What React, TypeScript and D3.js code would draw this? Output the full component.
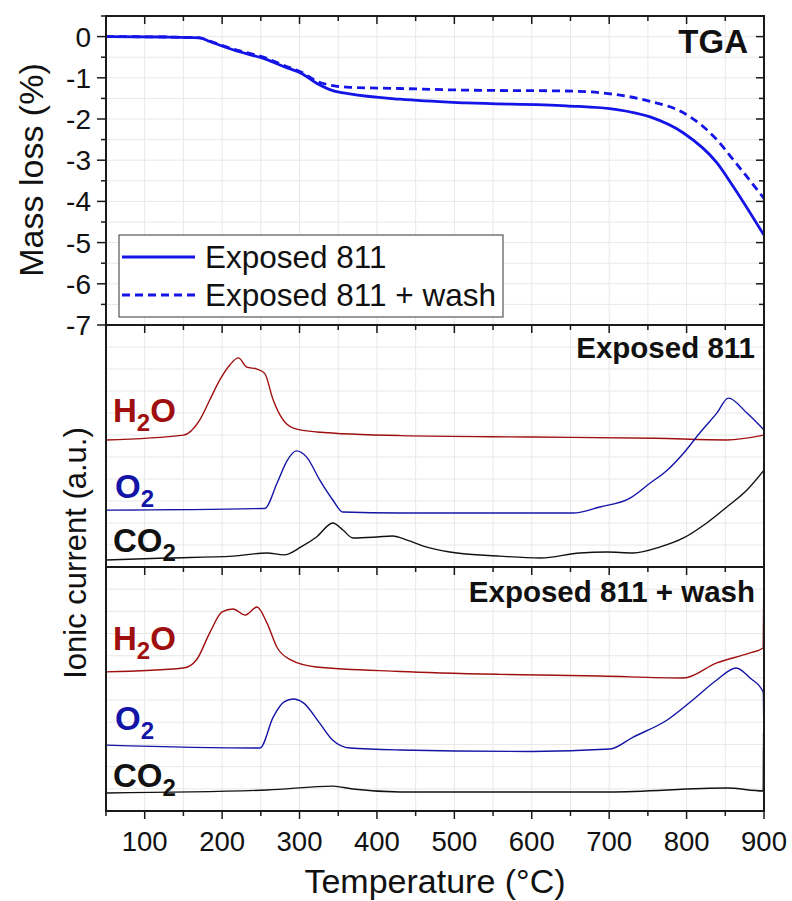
import * as d3 from 'd3';

// x axis (temperature, °C)
const xMajor = [100, 200, 300, 400, 500, 600, 700, 800, 900];
const xMinor = d3.range(50, 901, 50);
const massTicks = [0, -1, -2, -3, -4, -5, -6, -7];

// TGA mass loss (%)
const tgaExposed: [number, number][] = [
  [50, 0], [128, -0.01], [171, -0.03], [184, -0.12], [214, -0.32], [258, -0.56],
  [280, -0.73], [302, -0.89], [322, -1.13], [343, -1.31], [365, -1.39], [430, -1.52],
  [516, -1.61], [645, -1.68], [710, -1.77], [753, -1.95], [796, -2.34], [839, -3.06],
  [860, -3.63], [900, -4.82],
];
const tgaWash: [number, number][] = [
  [50, 0], [128, -0.01], [171, -0.03], [184, -0.11], [214, -0.3], [258, -0.53],
  [280, -0.7], [302, -0.86], [322, -1.08], [343, -1.19], [365, -1.23], [430, -1.26],
  [516, -1.3], [645, -1.32], [710, -1.41], [753, -1.57], [796, -1.85], [839, -2.5],
  [860, -2.98], [900, -3.93],
];

// ionic current, Exposed 811 (arbitrary units, 0-100 of panel)
const midH2O: [number, number][] = [
  [50, 52.5], [150, 54.5], [171, 60.7], [184, 69], [197, 77.3], [210, 83.5], [221, 86.4],
  [232, 82.6], [245, 81.8], [255, 80], [266, 69], [277, 61.6], [292, 57.4], [322, 55.8],
  [430, 54.3], [600, 53.7], [760, 53.2], [852, 52.5], [900, 54.5],
];
const midO2: [number, number][] = [
  [50, 23.5], [255, 24.2], [271, 34.7], [284, 44], [296, 48], [309, 45.5], [326, 36],
  [343, 27.7], [356, 22.7], [430, 22.3], [653, 22.3], [688, 24.8], [727, 28.5],
  [753, 34.7], [775, 40], [796, 47], [817, 55.4], [839, 63.6], [854, 69.8], [878, 63.6],
  [900, 56.6],
];
const midCO2: [number, number][] = [
  [50, 2.9], [128, 3.7], [214, 4.5], [258, 5.8], [280, 5], [302, 8.3], [322, 12.4],
  [343, 18.2], [356, 15.3], [369, 12], [400, 12.4], [420, 12.8], [440, 11], [460, 8.6],
  [494, 6.2], [559, 4.5], [611, 3.7], [662, 5.8], [697, 6.2], [731, 5.8], [766, 8.3],
  [796, 12], [826, 18.2], [852, 24.8], [878, 31.8], [900, 40],
];

// ionic current, Exposed 811 + wash
const botH2O: [number, number][] = [
  [50, 57], [150, 58.6], [167, 62], [184, 73], [200, 81.6], [214, 82.8], [230, 80.3],
  [245, 83.6], [258, 77], [271, 67], [288, 62], [322, 59], [430, 57.2], [559, 56],
  [688, 55.3], [796, 54.5], [839, 60.7], [882, 64.8], [899, 66.8], [899.6, 87],
];
const botO2: [number, number][] = [
  [50, 27], [249, 25.8], [266, 38.5], [280, 44.7], [292, 45.9], [305, 44.3], [326, 36],
  [343, 29], [365, 25.8], [430, 25], [600, 24.4], [701, 25.4], [731, 30.3], [775, 37.3],
  [808, 45.5], [839, 53.7], [864, 58.6], [882, 54.5], [899, 48.8], [899.6, 38.5],
];
const botCO2: [number, number][] = [
  [50, 7.4], [258, 8.6], [343, 10.2], [369, 9], [430, 7.8], [700, 7.8], [852, 9.4],
  [899, 8.2], [899.4, 32], [900, 6],
];

const FONT = '"Liberation Sans", Arial, sans-serif';
const RED = '#a00f0f';
const NAVY = '#1414a6';
const TGA_BLUE = '#1414e6';
const GRID = '#e8e8e8';
const AXIS = '#1a1a1a';

const x = d3.scaleLinear().domain([50, 900]).range([106, 764]);
const yTga = d3.scaleLinear().domain([-7, 0.5]).range([325, 16]);
const yMid = d3.scaleLinear().domain([0, 100]).range([567, 325]);
const yBot = d3.scaleLinear().domain([0, 100]).range([811, 567]);

const ionGrid = d3.range(1, 11).map(i => (i * 100) / 11);

function lineFor(y: d3.ScaleLinear<number, number>) {
  return d3
    .line<[number, number]>()
    .x(d => x(d[0]))
    .y(d => y(d[1]))
    .curve(d3.curveMonotoneX);
}

function Species({ tx, ty, base, sub, tail, color }: { tx: number; ty: number; base: string; sub: string; tail: string; color: string }) {
  return (
    <text x={tx} y={ty} fill={color} fontFamily={FONT} fontWeight="bold" fontSize={33}>
      {base}
      <tspan fontSize={24} dy={9}>{sub}</tspan>
      <tspan dy={-9}>{tail}</tspan>
    </text>
  );
}

export default function App() {
  const [x0, x1] = x.range();
  const tgaLine = lineFor(yTga);
  const midLine = lineFor(yMid);
  const botLine = lineFor(yBot);

  const vGrid = (top: number, bottom: number) =>
    xMinor.slice(1, -1).map(t => (
      <line key={`g${top}-${t}`} x1={x(t)} x2={x(t)} y1={top} y2={bottom} stroke={GRID} />
    ));

  const topTicks = (yy: number) =>
    xMinor.map(t => (
      <line key={`t${yy}-${t}`} x1={x(t)} x2={x(t)} y1={yy} y2={yy + (t % 100 === 0 ? 8 : 5)} stroke={AXIS} strokeWidth={1.5} />
    ));

  const halfSteps = d3.range(-7, 0.51, 0.5);

  return (
    <svg width={792} height={901} style={{ position: 'absolute', left: 0, top: 0, background: '#fff' }}>
      {/* grids */}
      {vGrid(16, 325)}
      {vGrid(325, 567)}
      {vGrid(567, 811)}
      {halfSteps.slice(1).map(v => (
        <line key={`hg${v}`} x1={x0} x2={x1} y1={yTga(v)} y2={yTga(v)} stroke={GRID} />
      ))}
      {ionGrid.map(v => (
        <line key={`mg${v}`} x1={x0} x2={x1} y1={yMid(v)} y2={yMid(v)} stroke={GRID} />
      ))}
      {ionGrid.map(v => (
        <line key={`bg${v}`} x1={x0} x2={x1} y1={yBot(v)} y2={yBot(v)} stroke={GRID} />
      ))}

      {/* TGA curves */}
      <path d={tgaLine(tgaWash) ?? ''} fill="none" stroke={TGA_BLUE} strokeWidth={2.8} strokeDasharray="8 5" />
      <path d={tgaLine(tgaExposed) ?? ''} fill="none" stroke={TGA_BLUE} strokeWidth={2.8} />

      {/* MS curves */}
      <path d={midLine(midH2O) ?? ''} fill="none" stroke={RED} strokeWidth={1.4} />
      <path d={midLine(midO2) ?? ''} fill="none" stroke={NAVY} strokeWidth={1.4} />
      <path d={midLine(midCO2) ?? ''} fill="none" stroke="#111" strokeWidth={1.4} />
      <path d={botLine(botH2O) ?? ''} fill="none" stroke={RED} strokeWidth={1.4} />
      <path d={botLine(botO2) ?? ''} fill="none" stroke={NAVY} strokeWidth={1.4} />
      <path d={botLine(botCO2) ?? ''} fill="none" stroke="#111" strokeWidth={1.4} />

      {/* frames */}
      <rect x={x0} y={16} width={x1 - x0} height={309} fill="none" stroke={AXIS} strokeWidth={2} />
      <rect x={x0} y={325} width={x1 - x0} height={242} fill="none" stroke={AXIS} strokeWidth={2} />
      <rect x={x0} y={567} width={x1 - x0} height={244} fill="none" stroke={AXIS} strokeWidth={2} />

      {/* ticks */}
      {topTicks(16)}
      {topTicks(325)}
      {topTicks(567)}
      {xMinor.map(t => (
        <line key={`bt${t}`} x1={x(t)} x2={x(t)} y1={811} y2={811 + (t % 100 === 0 ? 8 : 5)} stroke={AXIS} strokeWidth={1.5} />
      ))}
      {halfSteps.map(v => (
        <g key={`yt${v}`}>
          <line x1={x0} x2={x0 - (Number.isInteger(v) ? 9 : 5)} y1={yTga(v)} y2={yTga(v)} stroke={AXIS} strokeWidth={1.5} />
          <line x1={x1} x2={x1 - (Number.isInteger(v) ? 8 : 5)} y1={yTga(v)} y2={yTga(v)} stroke={AXIS} strokeWidth={1.5} />
        </g>
      ))}

      {/* tick labels */}
      {massTicks.map(v => (
        <text key={`yl${v}`} x={91} y={yTga(v)} dy="0.36em" textAnchor="end" fontFamily={FONT} fontSize={28} fill="#111">
          {v === 0 ? '0' : `-${Math.abs(v)}`}
        </text>
      ))}
      {xMajor.map(t => (
        <text key={`xl${t}`} x={x(t)} y={851} textAnchor="middle" fontFamily={FONT} fontSize={27.5} fill="#111">
          {t}
        </text>
      ))}

      {/* axis titles */}
      <text x={435} y={893} textAnchor="middle" fontFamily={FONT} fontSize={34} fill="#111">
        Temperature (°C)
      </text>
      <text transform="translate(43,170) rotate(-90)" textAnchor="middle" fontFamily={FONT} fontSize={34} fill="#111">
        Mass loss (%)
      </text>
      <text transform="translate(86,553) rotate(-90)" textAnchor="middle" fontFamily={FONT} fontSize={31} fill="#111">
        Ionic current (a.u.)
      </text>

      {/* panel labels */}
      <text x={748} y={53} textAnchor="end" fontFamily={FONT} fontWeight="bold" fontSize={33} fill="#111">TGA</text>
      <text x={755} y={358} textAnchor="end" fontFamily={FONT} fontWeight="bold" fontSize={29.5} fill="#111">Exposed 811</text>
      <text x={755} y={602} textAnchor="end" fontFamily={FONT} fontWeight="bold" fontSize={29.5} fill="#111">Exposed 811 + wash</text>

      {/* species labels */}
      <Species tx={113} ty={422} base="H" sub="2" tail="O" color={RED} />
      <Species tx={115} ty={498} base="O" sub="2" tail="" color={NAVY} />
      <Species tx={113} ty={552} base="CO" sub="2" tail="" color="#111" />
      <Species tx={113} ty={650} base="H" sub="2" tail="O" color={RED} />
      <Species tx={115} ty={730} base="O" sub="2" tail="" color={NAVY} />
      <Species tx={113} ty={787} base="CO" sub="2" tail="" color="#111" />

      {/* legend */}
      <rect x={119} y={235} width={384} height={82} fill="#fff" stroke="#555" strokeWidth={1.2} />
      <line x1={122} x2={195} y1={257} y2={257} stroke={TGA_BLUE} strokeWidth={2.8} />
      <line x1={122} x2={195} y1={295} y2={295} stroke={TGA_BLUE} strokeWidth={2.8} strokeDasharray="8 5" />
      <text x={205} y={268} fontFamily={FONT} fontSize={31.5} fill="#111">Exposed 811</text>
      <text x={205} y={306} fontFamily={FONT} fontSize={31.5} fill="#111">Exposed 811 + wash</text>
    </svg>
  );
}
